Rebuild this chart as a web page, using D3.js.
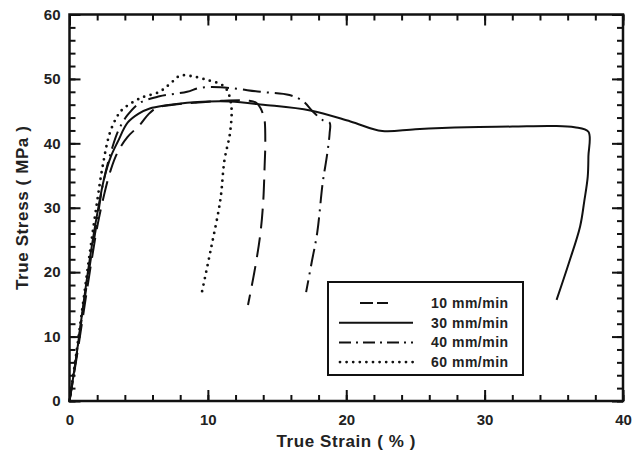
<!DOCTYPE html>
<html>
<head>
<meta charset="utf-8">
<script src="https://cdn.jsdelivr.net/npm/d3@7"></script>
<style>
    body { margin: 0; background: #fff; }
    svg text { font-family: "Liberation Sans", Arial, sans-serif; font-weight: bold; fill: #222; }
</style>
</head>
<body>
<div id="chart"></div>
<script>
// podaci ocitani sa slike: [deformacija %, naprezanje MPa]
const serije = ["10 mm/min", "30 mm/min", "40 mm/min", "60 mm/min"];

const brzina10 = [[0,0],[0.5,6.5],[1,13.5],[1.5,20.5],[2,27],[2.5,32],[3,36],[3.5,38.7],[4.2,41],[5.1,42.9],[5.7,44.5],[6.3,45.5],[7.5,46],[9,46.3],[11,46.6],[13,46.6],[13.5,46.3],[13.8,45.5],[14.0,44.4],[14.1,43.6],[14.15,40],[14.1,36.4],[14.0,31],[13.8,26.1],[13.4,20.5],[12.9,14.9]];

const brzina30 = [[0,0],[0.5,7],[1,15],[1.5,22.5],[2,29],[2.5,34.5],[3,38],[3.5,40.3],[4.2,43.2],[5,44.6],[5.8,45.4],[7,45.9],[8.5,46.3],[10,46.5],[11.6,46.5],[14,46],[17.4,45.1],[20.3,43.4],[22.6,41.9],[25,42.2],[28.7,42.5],[32,42.6],[34.9,42.7],[36.5,42.5],[37.5,41.8],[37.5,38],[37.45,34.8],[37.2,31],[36.9,27.1],[36.1,21.5],[35.2,15.7]];

const brzina40 = [[0,0],[0.5,7],[1,14.5],[1.5,21.5],[2,28],[2.4,33.5],[3.1,39.4],[3.6,42.3],[4.2,44.4],[5.1,46.3],[6.5,47.3],[8.5,48.0],[9.4,48.6],[10.9,48.7],[13.8,48.0],[15.9,47.5],[16.9,46.5],[17.6,44.9],[18.3,43.6],[18.8,43.2],[18.8,41.6],[18.6,38],[18.3,33.9],[17.9,26.1],[17.5,21.5],[17.1,16.9]];

const brzina60 = [[0,0],[0.5,7.5],[1,15.5],[1.5,23.5],[2,31],[2.4,36.5],[2.9,41.5],[3.4,44],[3.8,45.2],[5.1,47.0],[6.5,48.0],[7.3,49.3],[8.0,50.5],[8.9,50.4],[10.0,49.8],[11.0,49.1],[11.4,48.2],[11.7,45.7],[11.6,41.6],[11.2,37.4],[10.9,31.2],[10.2,23.4],[9.55,16.7]];

const xTickovi = [0, 10, 20, 30, 40];
const yTickovi = [0, 10, 20, 30, 40, 50, 60];

const dimenzije = {
    sirina: 642,
    visina: 456,
    margine: { top: 14.5, right: 19, bottom: 55, left: 69.5 }
};
dimenzije.grSirina = dimenzije.sirina - dimenzije.margine.left - dimenzije.margine.right;
dimenzije.grVisina = dimenzije.visina - dimenzije.margine.top - dimenzije.margine.bottom;

const okvir = d3.select("#chart")
    .append("svg")
    .attr("width", dimenzije.sirina)
    .attr("height", dimenzije.visina);

const granice = okvir.append("g")
    .attr("transform", `translate(${dimenzije.margine.left},${dimenzije.margine.top})`);

const xSkala = d3.scaleLinear().domain([0, 40]).range([0, dimenzije.grSirina]);
const ySkala = d3.scaleLinear().domain([0, 60]).range([dimenzije.grVisina, 0]);

const malaX = d3.range(0, 41, 2);
const malaY = d3.range(0, 61, 2);

// osi: kvacice prema unutra, sa sve cetiri strane
const osi = [
    { gen: d3.axisBottom, skala: xSkala, t: `translate(0,${dimenzije.grVisina})`, glavne: xTickovi, male: malaX, pad: 13 },
    { gen: d3.axisTop, skala: xSkala, t: "translate(0,0)", glavne: xTickovi, male: malaX, pad: null },
    { gen: d3.axisLeft, skala: ySkala, t: "translate(0,0)", glavne: yTickovi, male: malaY, pad: 9 },
    { gen: d3.axisRight, skala: ySkala, t: `translate(${dimenzije.grSirina},0)`, glavne: yTickovi, male: malaY, pad: null }
];

osi.forEach(o => {
    const gMale = granice.append("g").attr("transform", o.t)
        .call(o.gen(o.skala).tickValues(o.male).tickSize(-6).tickFormat(""));
    const gGlavne = granice.append("g").attr("transform", o.t)
        .call(o.gen(o.skala).tickValues(o.glavne).tickSize(-11).tickPadding(o.pad || 0)
            .tickFormat(o.pad ? d3.format("d") : ""));
    [gMale, gGlavne].forEach(g => {
        g.select(".domain").remove();
        g.selectAll("line").attr("stroke", "#111").attr("stroke-width", 2);
    });
    gGlavne.selectAll("text").style("font-size", "15px").attr("fill", "#222");
});

granice.append("rect")
    .attr("width", dimenzije.grSirina)
    .attr("height", dimenzije.grVisina)
    .attr("fill", "none")
    .attr("stroke", "#111")
    .attr("stroke-width", 2.5);

// naslovi osi
okvir.append("text")
    .attr("x", dimenzije.margine.left + dimenzije.grSirina / 2)
    .attr("y", 447)
    .attr("text-anchor", "middle")
    .style("font-size", "17px")
    .style("letter-spacing", "0.6px")
    .text("True Strain ( % )");

okvir.append("text")
    .attr("transform", `translate(28,${dimenzije.margine.top + dimenzije.grVisina / 2}) rotate(-90)`)
    .attr("text-anchor", "middle")
    .style("font-size", "17px")
    .style("letter-spacing", "0.6px")
    .text("True Stress ( MPa )");

// krivulje
const stilovi = [
    { podaci: brzina10, dash: "20,9", sirina: 2, cap: "butt", lDash: "13,4", lOd: 21, lDo: 49 },
    { podaci: brzina30, dash: null, sirina: 2, cap: "butt", lDash: null, lOd: 0, lDo: 74 },
    { podaci: brzina40, dash: "18,6,2,6", sirina: 2, cap: "butt", lDash: "12,5,2,5", lOd: 0, lDo: 74 },
    { podaci: brzina60, dash: "0,6.6", sirina: 2.8, cap: "round", lDash: "0,6.6", lOd: 1, lDo: 74 }
];

const linija = d3.line()
    .x(d => xSkala(d[0]))
    .y(d => ySkala(d[1]))
    .curve(d3.curveCatmullRom.alpha(0.5));

granice.append("g").selectAll("path")
    .data(stilovi)
    .join("path")
    .attr("d", d => linija(d.podaci))
    .attr("fill", "none")
    .attr("stroke", "#111")
    .attr("stroke-width", d => d.sirina)
    .attr("stroke-linecap", d => d.cap)
    .attr("stroke-dasharray", d => d.dash);

// legenda
const legenda = okvir.append("g").attr("transform", "translate(328,282)");
legenda.append("rect")
    .attr("width", 195)
    .attr("height", 93)
    .attr("fill", "#fff")
    .attr("stroke", "#111")
    .attr("stroke-width", 2);

const redovi = legenda.selectAll(".red")
    .data(stilovi)
    .join("g")
    .attr("class", "red")
    .attr("transform", (d, i) => `translate(0,${21 + i * 19.7})`);

redovi.append("line")
    .attr("x1", d => 11 + d.lOd)
    .attr("x2", d => 11 + d.lDo)
    .attr("stroke", "#111")
    .attr("stroke-width", d => d.sirina)
    .attr("stroke-linecap", d => d.cap)
    .attr("stroke-dasharray", d => d.lDash);

redovi.append("text")
    .attr("x", 103)
    .attr("y", 5)
    .style("font-size", "14px")
    .style("letter-spacing", "0.5px")
    .text((d, i) => serije[i]);
</script>
</body>
</html>
